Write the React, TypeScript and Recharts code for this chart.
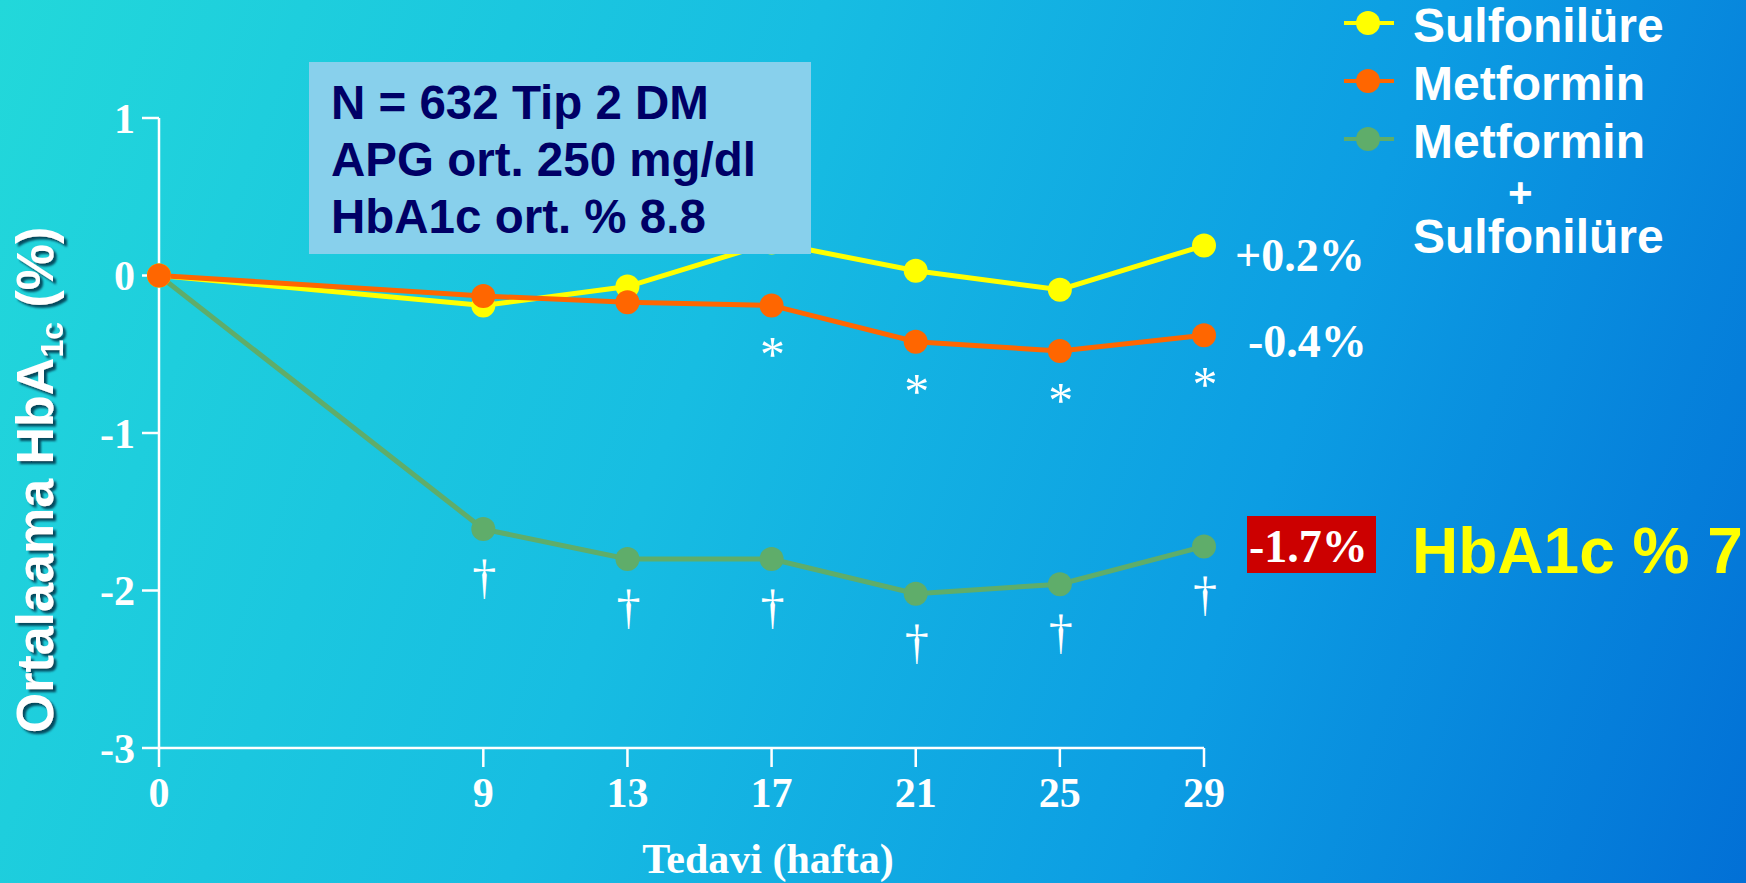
import React from "react";
import {
  LineChart,
  Line,
  XAxis,
  YAxis,
  Legend,
  LabelList,
} from "recharts";

// weeks of treatment
const weeks = [0, 9, 13, 17, 21, 25, 29];

// mean change in HbA1c (%)
const sulfonilure = [0, -0.19, -0.07, 0.21, 0.03, -0.09, 0.19];
const metformin = [0, -0.13, -0.17, -0.19, -0.42, -0.48, -0.38];
const kombinasyon = [0, -1.61, -1.8, -1.8, -2.02, -1.96, -1.72];

// significance marks under the points
const metforminMarks = ["", "", "", "*", "*", "*", "*"];
const kombinasyonMarks = ["", "†", "†", "†", "†", "†", "†"];

const yTicks = [-3, -2, -1, 0, 1];

const seriesNames = ["Sulfonilüre", "Metformin", "Metformin + Sulfonilüre"];
const seriesColors = ["#ffff00", "#ff6600", "#5fad6a"];

const infoLines = ["N = 632 Tip 2 DM", "APG ort. 250 mg/dl", "HbA1c ort. % 8.8"];
const endLabels = ["+0.2%", "-0.4%", "-1.7%"];
const targetLabel = "HbA1c % 7";

const data = weeks.map((w, i) => ({
  week: w,
  sulf: sulfonilure[i],
  met: metformin[i],
  combo: kombinasyon[i],
  metMark: metforminMarks[i],
  comboMark: kombinasyonMarks[i],
}));

const SANS = "'Liberation Sans', Arial, sans-serif";
const SERIF = "'Liberation Serif', 'Times New Roman', serif";

function renderMark(offset: number, fontSize: number, bold: boolean) {
  return (props: any) => {
    const { x, y, value, index } = props;
    if (!value) return null;
    return (
      <text
        key={index}
        x={x + 1}
        y={y + offset}
        textAnchor="middle"
        fill="#ffffff"
        fontFamily={SERIF}
        fontWeight={bold ? 700 : 400}
        fontSize={fontSize}
      >
        {value}
      </text>
    );
  };
}

function LegendBox(props: any) {
  const items = [...(props.payload ?? [])].sort(
    (a: any, b: any) => seriesNames.indexOf(a.value) - seriesNames.indexOf(b.value)
  );
  return (
    <div style={{ fontFamily: SANS, fontWeight: 700, fontSize: 48, color: "#fff" }}>
      {items.map((item: any) => {
        const lines = String(item.value).split(" + ");
        return (
          <div key={item.value} style={{ display: "flex", alignItems: "flex-start" }}>
            <svg width={50} height={58} style={{ flex: "none" }}>
              <line x1={0} x2={50} y1={26} y2={26} stroke={item.color} strokeWidth={4} />
              <circle cx={24} cy={26} r={12} fill={item.color} />
            </svg>
            <div style={{ marginLeft: 19, whiteSpace: "nowrap" }}>
              <div style={{ lineHeight: "58px" }}>{lines[0]}</div>
              {lines.length > 1 && (
                <>
                  <div style={{ lineHeight: "44px", fontSize: 42, paddingLeft: 95 }}>+</div>
                  <div style={{ lineHeight: "44px" }}>{lines[1]}</div>
                </>
              )}
            </div>
          </div>
        );
      })}
    </div>
  );
}

export default function App() {
  return (
    <div
      style={{
        position: "absolute",
        left: 0,
        top: 0,
        width: 1746,
        height: 883,
        overflow: "hidden",
        background:
          "linear-gradient(110deg, #22d8da 0%, #17bde2 40%, #0c9de3 70%, #0270d6 100%)",
      }}
    >
      <LineChart
        width={1746}
        height={883}
        data={data}
        margin={{ top: 118, right: 542, bottom: 75, left: 59 }}
      >
        <XAxis
          dataKey="week"
          type="number"
          domain={[0, 29]}
          ticks={weeks}
          interval={0}
          height={60}
          stroke="#ffffff"
          strokeWidth={2.5}
          tickSize={19}
          tickMargin={10}
          tick={{ fill: "#ffffff", fontFamily: SERIF, fontWeight: 700, fontSize: 42 }}
        />
        <YAxis
          domain={[-3, 1]}
          ticks={yTicks}
          interval={0}
          width={100}
          stroke="#ffffff"
          strokeWidth={2.5}
          tickSize={17}
          tickMargin={7}
          tick={{ fill: "#ffffff", fontFamily: SERIF, fontWeight: 700, fontSize: 42 }}
        />
        <Legend
          layout="vertical"
          align="center"
          verticalAlign="middle"
          wrapperStyle={{ left: 1344, top: -3, width: 402 }}
          content={LegendBox}
        />
        <Line
          dataKey="combo"
          name={seriesNames[2]}
          stroke={seriesColors[2]}
          strokeWidth={5}
          dot={{ r: 12, fill: seriesColors[2], strokeWidth: 0 }}
          activeDot={false}
          isAnimationActive={false}
        >
          <LabelList dataKey="comboMark" content={renderMark(64, 48, false)} />
        </Line>
        <Line
          dataKey="sulf"
          name={seriesNames[0]}
          stroke={seriesColors[0]}
          strokeWidth={5}
          dot={{ r: 12, fill: seriesColors[0], strokeWidth: 0 }}
          activeDot={false}
          isAnimationActive={false}
        />
        <Line
          dataKey="met"
          name={seriesNames[1]}
          stroke={seriesColors[1]}
          strokeWidth={5}
          dot={{ r: 12, fill: seriesColors[1], strokeWidth: 0 }}
          activeDot={false}
          isAnimationActive={false}
        >
          <LabelList dataKey="metMark" content={renderMark(66, 50, false)} />
        </Line>
      </LineChart>

      <svg
        width={1746}
        height={883}
        style={{ position: "absolute", left: 0, top: 0, pointerEvents: "none" }}
      >
        <defs>
          <filter id="shadow" x="-20%" y="-20%" width="140%" height="140%">
            <feDropShadow dx={-3} dy={3} stdDeviation={1.2} floodColor="#00304a" floodOpacity={0.85} />
          </filter>
        </defs>

        {/* info box */}
        <rect x={309} y={62} width={502} height={192} fill="#88d0ec" />
        {infoLines.map((t, i) => (
          <text
            key={t}
            x={331}
            y={119 + i * 57}
            fill="#000066"
            fontFamily={SANS}
            fontWeight={700}
            fontSize={47.5}
          >
            {t}
          </text>
        ))}

        {/* end-of-study values */}
        <text x={1235} y={271} fill="#fff" fontFamily={SERIF} fontWeight={700} fontSize={46}>
          {endLabels[0]}
        </text>
        <text x={1248} y={357} fill="#fff" fontFamily={SERIF} fontWeight={700} fontSize={46}>
          {endLabels[1]}
        </text>
        <rect x={1247} y={516} width={129} height={57} fill="#cc0000" />
        <text x={1249} y={562} fill="#fff" fontFamily={SERIF} fontWeight={700} fontSize={46}>
          {endLabels[2]}
        </text>
        <text x={1412} y={573} fill="#ffff00" fontFamily={SANS} fontWeight={700} fontSize={64}>
          {targetLabel}
        </text>

        {/* axis titles */}
        <text
          transform="translate(53,480) rotate(-90)"
          textAnchor="middle"
          fill="#fff"
          fontFamily={SANS}
          fontWeight={700}
          fontSize={52}
          filter="url(#shadow)"
        >
          Ortalaama HbA
          <tspan fontSize={32} dy={10}>
            1c
          </tspan>
          <tspan dy={-10}> (%)</tspan>
        </text>
        <text
          x={768}
          y={873}
          textAnchor="middle"
          fill="#fff"
          fontFamily={SERIF}
          fontWeight={700}
          fontSize={42}
        >
          Tedavi (hafta)
        </text>
      </svg>
    </div>
  );
}
